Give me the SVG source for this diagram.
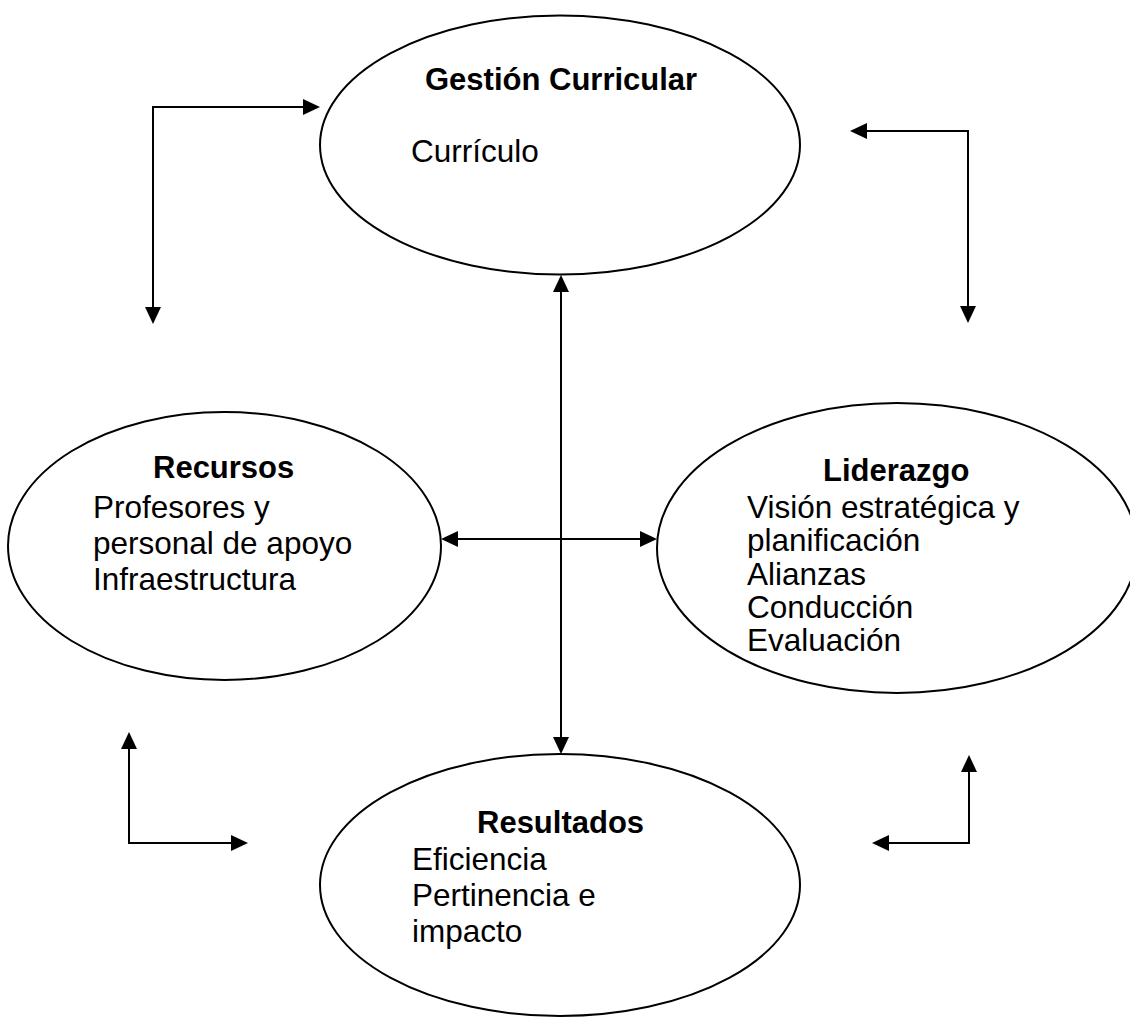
<svg xmlns="http://www.w3.org/2000/svg" width="1130" height="1017" viewBox="0 0 1130 1017">
<style>
.node ellipse{fill:#fff;stroke:#000;stroke-width:2}
text{font-family:"Liberation Sans",Arial,sans-serif;font-size:31.5px;fill:#000}
.t{font-weight:bold;font-size:31px}
.c path{fill:none;stroke:#000;stroke-width:2;marker-start:url(#ah);marker-end:url(#ah)}
</style>
<defs>
<marker id="ah" markerUnits="userSpaceOnUse" markerWidth="18" markerHeight="17" refX="2" refY="8" orient="auto-start-reverse" viewBox="0 0 18 17">
<path d="M0,0 L17,8 L0,16 z" fill="#000"/>
</marker>
</defs>
<rect width="1130" height="1017" fill="#fff"/>
<g id="gestion" class="node">
<ellipse cx="560" cy="145" rx="240" ry="129.5"/>
<text class="t" x="425" y="90">Gestión Curricular</text>
<text x="411" y="162">Currículo</text>
</g>
<g id="recursos" class="node">
<ellipse cx="224.5" cy="546" rx="216.5" ry="134"/>
<text class="t" x="153" y="478">Recursos</text>
<text x="93" y="518">Profesores y</text>
<text x="93" y="554">personal de apoyo</text>
<text x="93" y="590">Infraestructura</text>
</g>
<g id="liderazgo" class="node">
<ellipse cx="897" cy="548" rx="240" ry="145"/>
<text class="t" x="823" y="481">Liderazgo</text>
<text x="747" y="518">Visión estratégica y</text>
<text x="747" y="551">planificación</text>
<text x="747" y="585">Alianzas</text>
<text x="747" y="618">Conducción</text>
<text x="747" y="651">Evaluación</text>
</g>
<g id="resultados" class="node">
<ellipse cx="560" cy="885" rx="240" ry="131"/>
<text class="t" x="477" y="833">Resultados</text>
<text x="412" y="870">Eficiencia</text>
<text x="412" y="906">Pertinencia e</text>
<text x="412" y="942">impacto</text>
</g>
<g id="connectors" class="c">
<path d="M153,309 V107 H305"/>
<path d="M865,131 H968 V308"/>
<path d="M561,290 V739"/>
<path d="M456,539 H642"/>
<path d="M129,747 V843 H233"/>
<path d="M969,770 V843 H887"/>
</g>
</svg>
